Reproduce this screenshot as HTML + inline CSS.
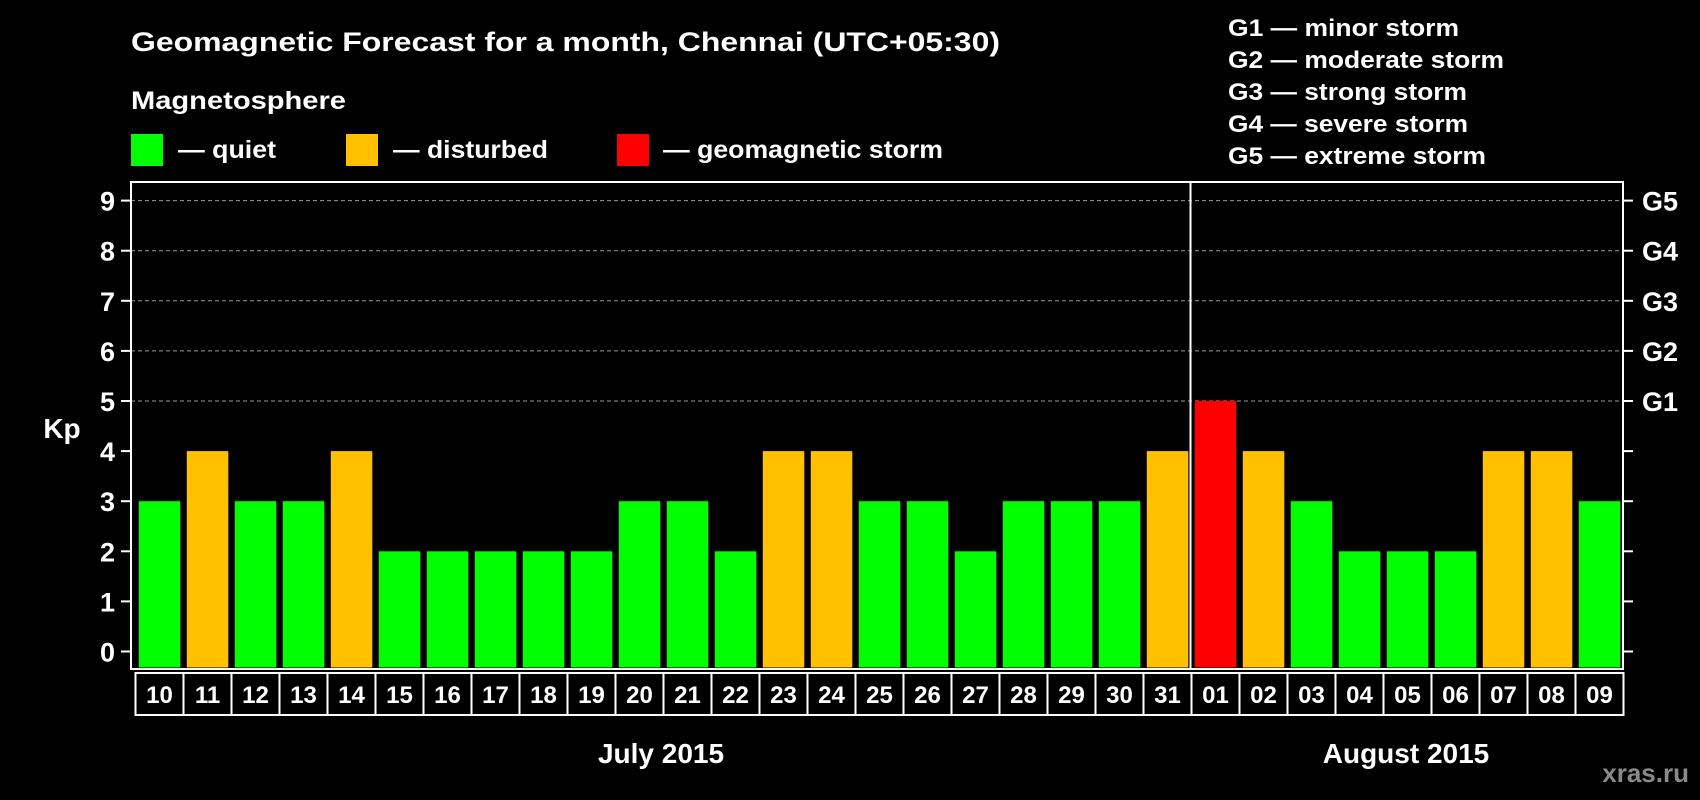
<!DOCTYPE html>
<html><head><meta charset="utf-8"><style>
html,body{margin:0;padding:0;background:#000;}
svg{display:block;font-family:"Liberation Sans",sans-serif;font-weight:bold;}
</style></head><body>
<svg id="c" width="1700" height="800" viewBox="0 0 1700 800">
<rect width="1700" height="800" fill="#000"/>
<text x="131" y="51" fill="#fff" font-size="27" textLength="869" lengthAdjust="spacingAndGlyphs">Geomagnetic Forecast for a month, Chennai (UTC+05:30)</text>
<text x="131" y="109" fill="#fff" font-size="25" textLength="215" lengthAdjust="spacingAndGlyphs">Magnetosphere</text>
<g><rect x="131" y="134" width="32" height="32" fill="#00ff00"/><text x="178" y="158" fill="#fff" font-size="25" textLength="98" lengthAdjust="spacingAndGlyphs">— quiet</text></g>
<g><rect x="346" y="134" width="32" height="32" fill="#ffc000"/><text x="393" y="158" fill="#fff" font-size="25" textLength="155" lengthAdjust="spacingAndGlyphs">— disturbed</text></g>
<g><rect x="617" y="134" width="32" height="32" fill="#ff0000"/><text x="663" y="158" fill="#fff" font-size="25" textLength="280" lengthAdjust="spacingAndGlyphs">— geomagnetic storm</text></g>
<g fill="#fff" font-size="24">
<text x="1228" y="36" textLength="231" lengthAdjust="spacingAndGlyphs">G1 — minor storm</text>
<text x="1228" y="68" textLength="276" lengthAdjust="spacingAndGlyphs">G2 — moderate storm</text>
<text x="1228" y="100" textLength="239" lengthAdjust="spacingAndGlyphs">G3 — strong storm</text>
<text x="1228" y="132" textLength="240" lengthAdjust="spacingAndGlyphs">G4 — severe storm</text>
<text x="1228" y="164" textLength="258" lengthAdjust="spacingAndGlyphs">G5 — extreme storm</text>
</g>
<text x="62" y="438" fill="#fff" font-size="28" text-anchor="middle">Kp</text>
<text x="661" y="763" fill="#fff" font-size="28" text-anchor="middle">July 2015</text>
<text x="1406" y="763" fill="#fff" font-size="28" text-anchor="middle">August 2015</text>
<text x="1689" y="782" fill="#8a8a8a" font-size="26" text-anchor="end">xras.ru</text>
<g id="g"></g>
</svg>
<script>
const days = ["10","11","12","13","14","15","16","17","18","19","20","21","22","23","24","25","26","27","28","29","30","31","01","02","03","04","05","06","07","08","09"];
const kp = [3,4,3,3,4,2,2,2,2,2,3,3,2,4,4,3,3,2,3,3,3,4,5,4,3,2,2,2,4,4,3];
const yTicks = [0,1,2,3,4,5,6,7,8,9];
const gLabels = ["G1","G2","G3","G4","G5"];
const NS="http://www.w3.org/2000/svg";
const g=document.getElementById('g');
const L=131,R=1623,T=182,B=669,X0=138.8,STEP=48,BW=41.5;
const y=v=>651.5-v*50.1;
const x=i=>X0+i*STEP;
function mk(t,a){const e=document.createElementNS(NS,t);for(const k in a)e.setAttribute(k,a[k]);g.appendChild(e);return e;}
yTicks.forEach(v=>{
  if(v>=5){const gl=mk('line',{x1:L,x2:R,y1:y(v),y2:y(v),stroke:'#9a9a9a','stroke-width':1,'stroke-dasharray':'4,3'});
  
  }
  const t1=mk('line',{x1:L-10,x2:L,y1:y(v),y2:y(v),stroke:'#fff','stroke-width':2});
  
  
  const t2=mk('line',{x1:R,x2:R+10,y1:y(v),y2:y(v),stroke:'#fff','stroke-width':2});
  
  
  const tl=mk('text',{x:115,y:y(v)+10,fill:'#fff','font-size':27,'text-anchor':'end'});
  tl.textContent=v;
  
  
});
gLabels.forEach((s,i)=>{
  const t=mk('text',{x:1642,y:y(i+5)+10,fill:'#fff','font-size':27});
  t.textContent=s;
  
  
});
days.forEach((d,i)=>{
  const v=kp[i];
  const col=v>=5?'#ff0000':(v>=4?'#ffc000':'#00ff00');
  const b=mk('rect',{x:x(i),y:y(v),width:BW,height:y(0)-y(v)+16,fill:col});
  
  
  const bx=mk('rect',{x:x(i)-3.3,y:673,width:STEP,height:42,fill:'none',stroke:'#fff','stroke-width':2});
  
  
  const t=mk('text',{x:x(i)-3.3+STEP/2,y:703,fill:'#fff','font-size':24,'text-anchor':'middle'});
  t.textContent=d;
  
  
});
const f=mk('rect',{x:L,y:T,width:R-L,height:B-T,fill:'none',stroke:'#fff','stroke-width':2});


const dv=mk('line',{x1:1190.5,x2:1190.5,y1:T,y2:B,stroke:'#fff','stroke-width':2});


</script>
</body></html>
